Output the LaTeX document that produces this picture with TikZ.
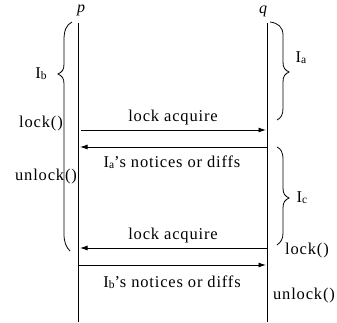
\documentclass[tikz,border=0pt]{standalone}
\usepackage{fontspec}
\setmainfont[LetterSpace=5]{Liberation Serif}
\usetikzlibrary{arrows.meta}
\newcommand{\subl}[1]{\raisebox{-0.8pt}{\fontsize{11.5}{11.5}\selectfont #1}}
\tikzset{
  x=1pt, y=-1pt,
  lifeline/.style={line width=1pt},
  msg/.style={line width=0.9pt, -{Latex[length=7.5pt,width=5pt]}},
  brace/.style={line width=0.8pt},
  lbl/.style={font=\fontsize{16.5}{16.5}\selectfont, inner sep=0pt},
  proc/.style={font=\fontsize{16}{16}\selectfont\itshape, inner sep=0pt}
}
\begin{document}
\begin{tikzpicture}
\useasboundingbox (0,0) rectangle (337,322);
% processes
\node[proc] (p) at (81,10) {p};
\node[proc] (q) at (263,11) {q};
\coordinate (ptop) at (78,23);
\coordinate (pbot) at (78,322);
\coordinate (qtop) at (267,23);
\coordinate (qbot) at (267,322);
\draw[lifeline] (ptop) -- (pbot);
\draw[lifeline] (qtop) -- (qbot);
% message endpoints
\coordinate (p1) at (81,130); \coordinate (q1) at (266,130);
\coordinate (p2) at (80,147); \coordinate (q2) at (267,147);
\coordinate (p3) at (80,248); \coordinate (q3) at (267,248);
\coordinate (p4) at (79,265); \coordinate (q4) at (266,265);
\draw[msg] (p1) -- (q1);
\draw[msg] (q2) -- (p2);
\draw[msg] (q3) -- (p3);
\draw[msg] (p4) -- (q4);
% message labels
\node[lbl] (m1) at (173,118) {lock acquire};
\node[lbl] (m2) at (172,162) {I\subl{a}'s notices or diffs};
\node[lbl] (m3) at (173,236) {lock acquire};
\node[lbl] (m4) at (172,282) {I\subl{b}'s notices or diffs};
% left labels
\node[lbl] (ib) at (41,74) {I\subl{b}};
\node[lbl] (lk1) at (41,124) {lock()};
\node[lbl] (ul1) at (46,177) {unlock()};
% right labels
\node[lbl] (ia) at (301,58) {I\subl{a}};
\node[lbl] (ic) at (302,198) {I\subl{c}};
\node[lbl] (lk2) at (307,251) {lock()};
\node[lbl] (ul2) at (304,296) {unlock()};
% braces
\draw[brace] (72,22) .. controls (66,25) and (64,31) .. (64,40) -- (64,64)
  .. controls (64,70) and (62,72) .. (58,74)
  .. controls (62,76) and (64,78) .. (64,84) -- (64,234)
  .. controls (64,242) and (66,247) .. (70,251);
\draw[brace] (270,22) .. controls (278,23) and (283,27) .. (283,35) -- (283,62)
  .. controls (283,68) and (285,70) .. (289,72)
  .. controls (285,74) and (283,76) .. (283,82) -- (283,108)
  .. controls (283,115) and (281,118) .. (277,120);
\draw[brace] (277,147) .. controls (281,149) and (283,152) .. (283,160) -- (283,188)
  .. controls (283,194) and (285,196) .. (289,198)
  .. controls (285,200) and (283,202) .. (283,208) -- (283,233)
  .. controls (283,239) and (281,242) .. (277,245);
\end{tikzpicture}
\end{document}
